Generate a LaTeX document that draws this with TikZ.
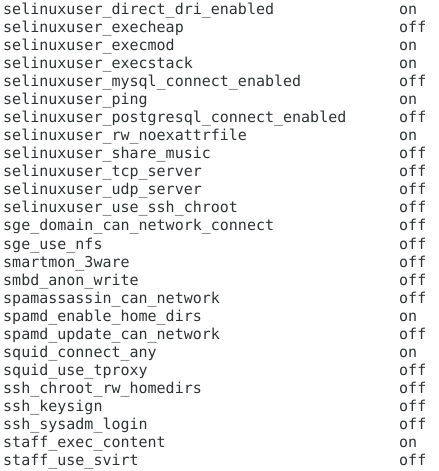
\documentclass[tikz,border=0pt]{standalone}
\usepackage{fontspec}
\setmonofont{DejaVu Sans Mono}
\usepackage{tikz}
\definecolor{termtext}{HTML}{2E3436}

\begin{document}
\begin{tikzpicture}[x=1bp,y=-1bp,
    txt/.style={anchor=base west,inner sep=0pt,text=termtext,font=\ttfamily\fontsize{15bp}{18bp}\selectfont}]
    \useasboundingbox[fill=white] (0,0) rectangle (439,471);
    % boolean names
    \node[txt] (n1) at (3,15) {selinuxuser\_direct\_dri\_enabled};
    \node[txt] (n2) at (3,33) {selinuxuser\_execheap};
    \node[txt] (n3) at (3,51) {selinuxuser\_execmod};
    \node[txt] (n4) at (3,69) {selinuxuser\_execstack};
    \node[txt] (n5) at (3,87) {selinuxuser\_mysql\_connect\_enabled};
    \node[txt] (n6) at (3,105) {selinuxuser\_ping};
    \node[txt] (n7) at (3,123) {selinuxuser\_postgresql\_connect\_enabled};
    \node[txt] (n8) at (3,141) {selinuxuser\_rw\_noexattrfile};
    \node[txt] (n9) at (3,159) {selinuxuser\_share\_music};
    \node[txt] (n10) at (3,177) {selinuxuser\_tcp\_server};
    \node[txt] (n11) at (3,195) {selinuxuser\_udp\_server};
    \node[txt] (n12) at (3,213) {selinuxuser\_use\_ssh\_chroot};
    \node[txt] (n13) at (3,231) {sge\_domain\_can\_network\_connect};
    \node[txt] (n14) at (3,249) {sge\_use\_nfs};
    \node[txt] (n15) at (3,267) {smartmon\_3ware};
    \node[txt] (n16) at (3,285) {smbd\_anon\_write};
    \node[txt] (n17) at (3,303) {spamassassin\_can\_network};
    \node[txt] (n18) at (3,321) {spamd\_enable\_home\_dirs};
    \node[txt] (n19) at (3,339) {spamd\_update\_can\_network};
    \node[txt] (n20) at (3,357) {squid\_connect\_any};
    \node[txt] (n21) at (3,375) {squid\_use\_tproxy};
    \node[txt] (n22) at (3,393) {ssh\_chroot\_rw\_homedirs};
    \node[txt] (n23) at (3,411) {ssh\_keysign};
    \node[txt] (n24) at (3,429) {ssh\_sysadm\_login};
    \node[txt] (n25) at (3,447) {staff\_exec\_content};
    \node[txt] (n26) at (3,465) {staff\_use\_svirt};
    % states
    \node[txt] (v1) at (399,15) {on};
    \node[txt] (v2) at (399,33) {off};
    \node[txt] (v3) at (399,51) {on};
    \node[txt] (v4) at (399,69) {on};
    \node[txt] (v5) at (399,87) {off};
    \node[txt] (v6) at (399,105) {on};
    \node[txt] (v7) at (399,123) {off};
    \node[txt] (v8) at (399,141) {on};
    \node[txt] (v9) at (399,159) {off};
    \node[txt] (v10) at (399,177) {off};
    \node[txt] (v11) at (399,195) {off};
    \node[txt] (v12) at (399,213) {off};
    \node[txt] (v13) at (399,231) {off};
    \node[txt] (v14) at (399,249) {off};
    \node[txt] (v15) at (399,267) {off};
    \node[txt] (v16) at (399,285) {off};
    \node[txt] (v17) at (399,303) {off};
    \node[txt] (v18) at (399,321) {on};
    \node[txt] (v19) at (399,339) {off};
    \node[txt] (v20) at (399,357) {on};
    \node[txt] (v21) at (399,375) {off};
    \node[txt] (v22) at (399,393) {off};
    \node[txt] (v23) at (399,411) {off};
    \node[txt] (v24) at (399,429) {off};
    \node[txt] (v25) at (399,447) {on};
    \node[txt] (v26) at (399,465) {off};
\end{tikzpicture}
\end{document}
